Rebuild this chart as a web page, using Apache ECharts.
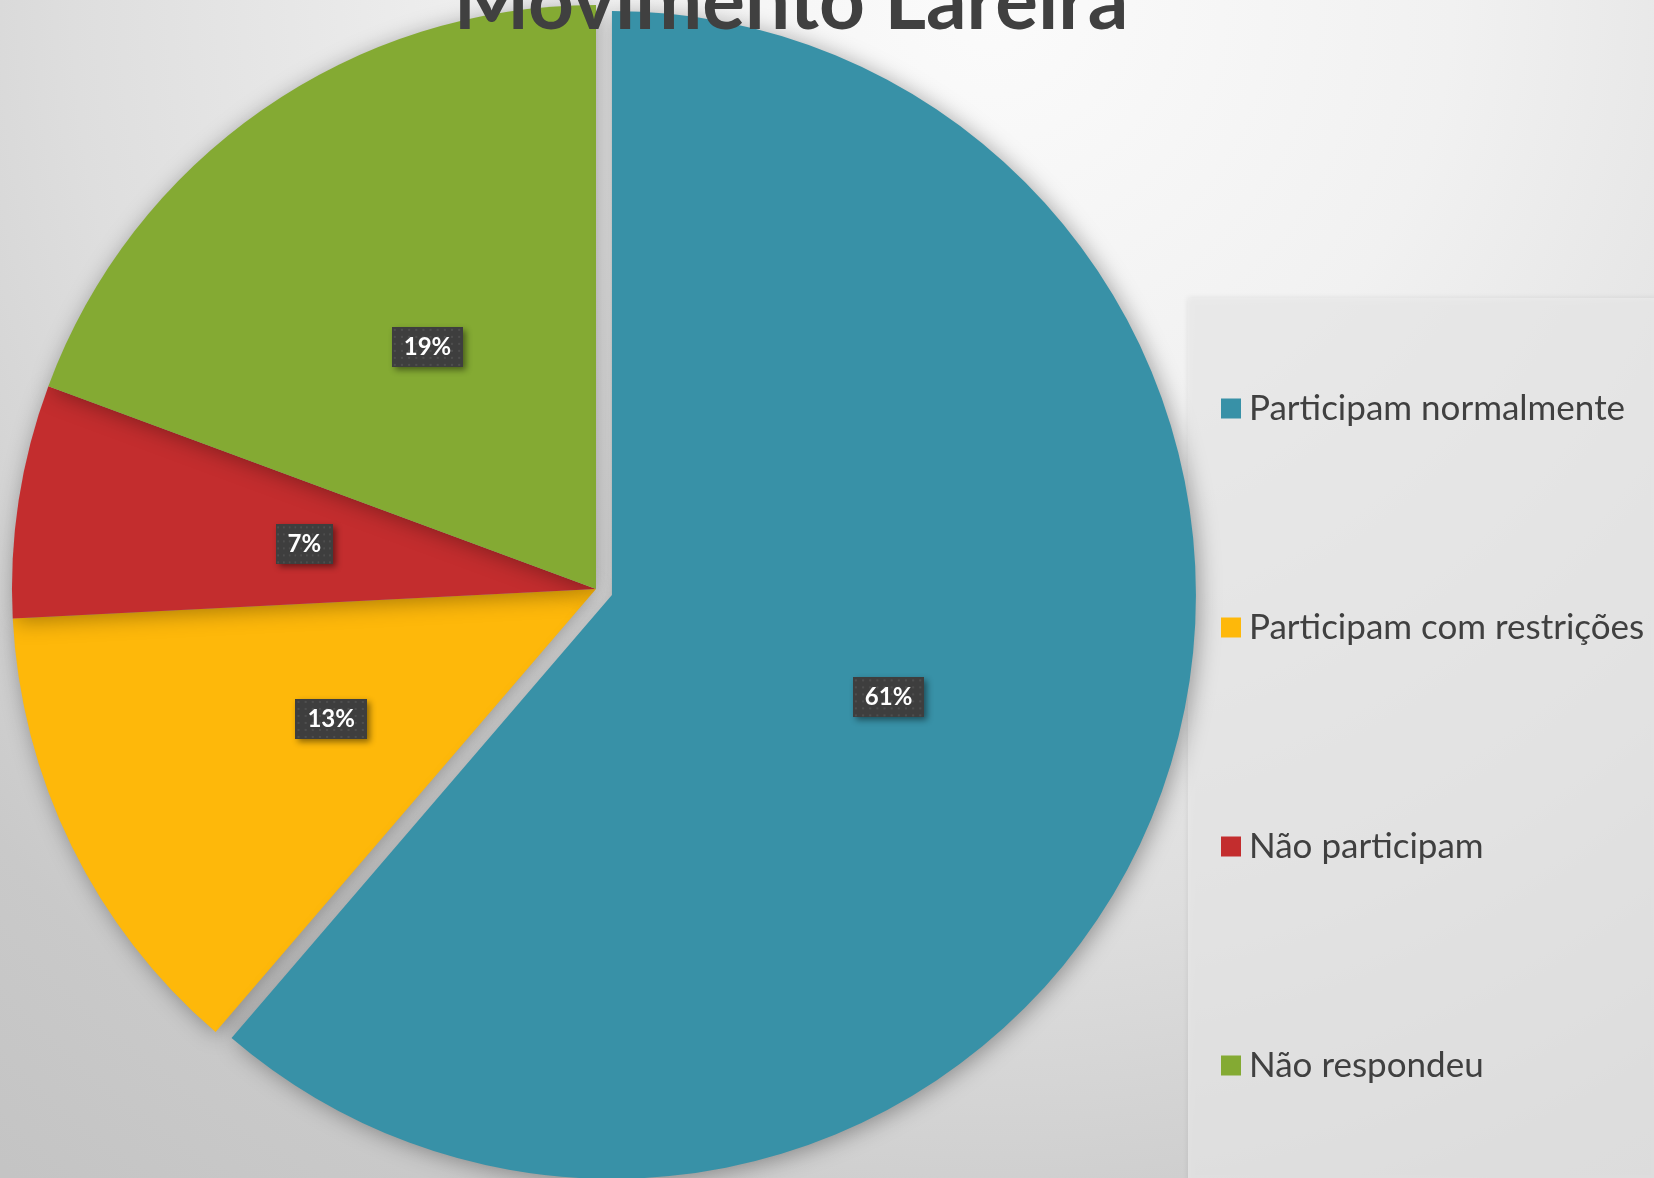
<!DOCTYPE html>
<html>
<head>
<meta charset="utf-8">
<title>Movimento Lareira</title>
<script src="https://cdn.jsdelivr.net/npm/echarts@6/dist/echarts.min.js"></script>
<style>
    html, body { margin: 0; padding: 0; }
    #chart { width: 1654px; height: 1178px; }
</style>
</head>
<body>
<div id="chart"></div>
<script>
    // dados do gráfico
    var categorias = ['Participam normalmente', 'Participam com restrições', 'Não participam', 'Não respondeu'];
    var respostas = [19, 4, 2, 6];
    var cores = ['#3891A7', '#FEB80A', '#C32D2E', '#84AA33'];

    var pieData = [];
    for (var i = 0; i < categorias.length; i++) {
        pieData.push({
            name: categorias[i],
            value: respostas[i],
            selected: i === 0, // fatia destacada
            itemStyle: { color: cores[i] }
        });
    }

    // fundo pontilhado dos rótulos
    var fundoRotulo = document.createElement('canvas');
    fundoRotulo.width = 70;
    fundoRotulo.height = 40;
    var ctx = fundoRotulo.getContext('2d');
    ctx.fillStyle = '#3e3e3e';
    ctx.fillRect(0, 0, 70, 40);
    ctx.fillStyle = '#4e4e4e';
    for (var x = 2; x < 70; x += 7) {
        for (var y = 2; y < 40; y += 7) {
            ctx.fillRect(x, y, 2, 2);
        }
    }

    var myChart = echarts.init(document.getElementById('chart'));

    var option = {
        backgroundColor: {
            type: 'radial', x: 0.6, y: 0, r: 1.3,
            colorStops: [
                { offset: 0, color: '#fbfbfb' },
                { offset: 0.3, color: '#f1f1f1' },
                { offset: 0.6, color: '#dedede' },
                { offset: 0.85, color: '#c9c9c9' },
                { offset: 1, color: '#c4c4c4' }
            ]
        },
        title: {
            text: 'Movimento Lareira',
            left: 786, top: -42,
            textAlign: 'center',
            textStyle: { fontFamily: 'Lato', fontWeight: 'bold', fontSize: 80, color: '#404040' }
        },
        graphic: [{
            // caixa da legenda
            type: 'rect', z: 0,
            shape: { x: 1188, y: 298, width: 470, height: 884 },
            style: {
                fill: 'rgba(236,236,236,0.7)',
                shadowBlur: 6, shadowColor: 'rgba(0,0,0,0.12)'
            }
        }],
        legend: {
            orient: 'vertical',
            left: 1216, top: 386,
            icon: 'rect',
            itemWidth: 20, itemHeight: 20,
            itemGap: 184,
            data: categorias,
            textStyle: {
                fontFamily: 'Lato', fontSize: 35, color: '#404040',
                padding: [0, 0, 0, 3]
            }
        },
        series: [{
            type: 'pie',
            center: [596, 589],
            radius: 584,
            startAngle: 90,
            selectedMode: 'single',
            selectedOffset: 17,
            percentPrecision: 0,
            emphasis: { scale: false },
            itemStyle: {
                shadowBlur: 22, shadowColor: 'rgba(0,0,0,0.35)',
                shadowOffsetX: 3, shadowOffsetY: 3
            },
            label: {
                show: true,
                position: 'inside',
                formatter: '{d}%',
                fontFamily: 'Lato', fontWeight: 'bold', fontSize: 24,
                color: '#ffffff',
                backgroundColor: { image: fundoRotulo },
                padding: [8, 12, 8, 12],
                shadowBlur: 6, shadowColor: 'rgba(0,0,0,0.45)',
                shadowOffsetX: 3, shadowOffsetY: 3
            },
            labelLine: { show: false },
            data: pieData
        }]
    };

    myChart.setOption(option);
    window.addEventListener('resize', function () {
        myChart.resize();
    });
</script>
</body>
</html>
